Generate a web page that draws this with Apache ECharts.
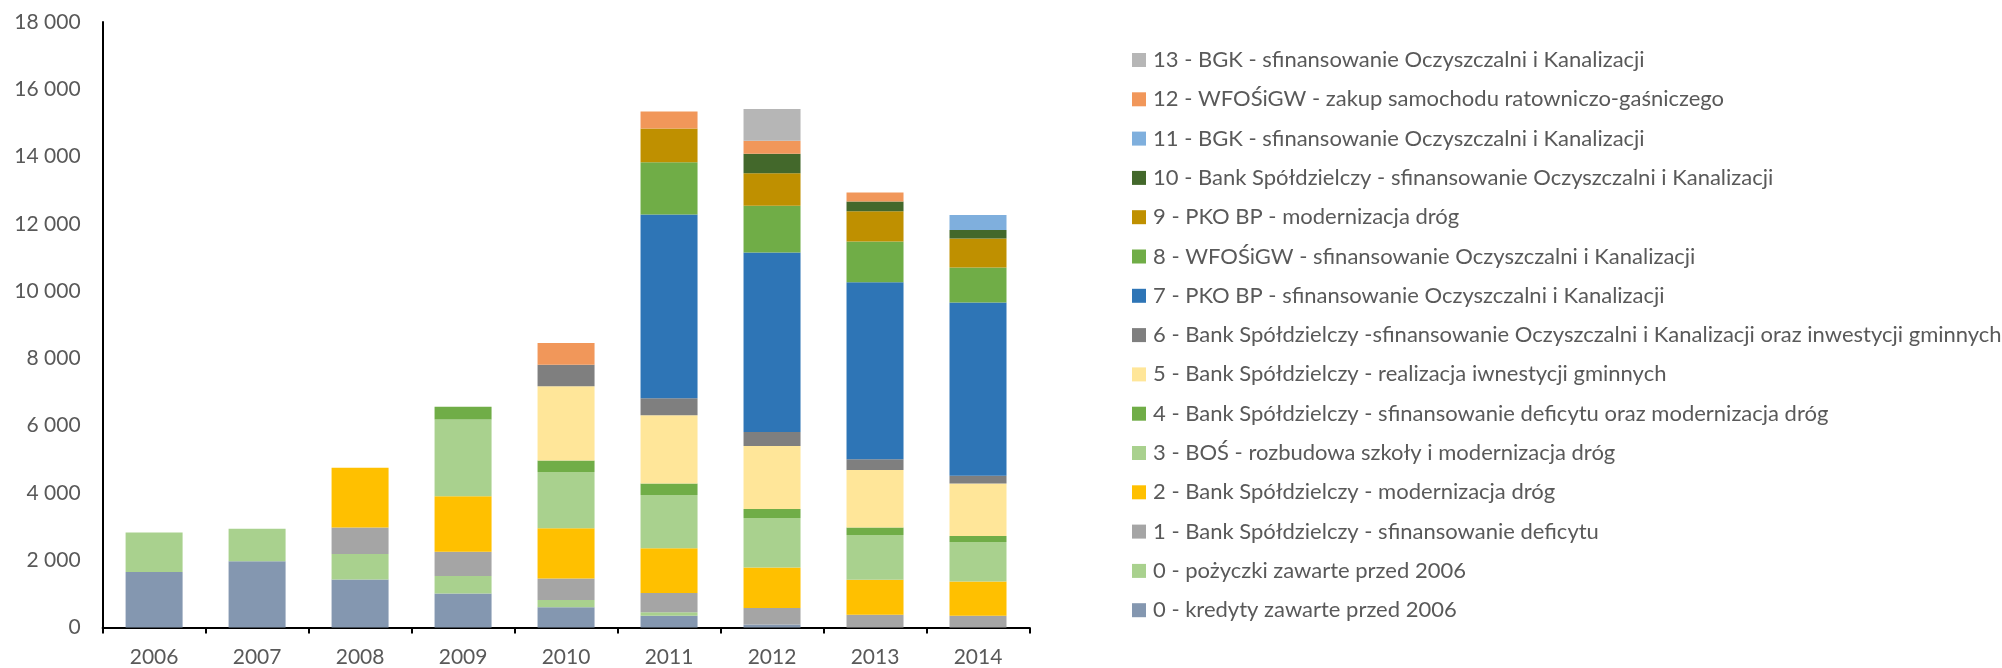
<!DOCTYPE html>
<html>
<head>
<meta charset="utf-8">
<title>Zadłużenie gminy 2006-2014</title>
<script src="https://cdn.jsdelivr.net/npm/echarts@6/dist/echarts.min.js"></script>
<style>
	html, body { margin: 0; padding: 0; background: #fff; }
	#main { width: 2002px; height: 668px; }
</style>
</head>
<body>
<div id="main"></div>
<script>
// lata
var years = ['2006', '2007', '2008', '2009', '2010', '2011', '2012', '2013', '2014'];

// nazwy serii (kolejnosc od dolu slupka)
var seriesNames = [
	'0 - kredyty zawarte przed 2006',
	'0 - pożyczki zawarte przed 2006',
	'1 - Bank Spółdzielczy - sfinansowanie deficytu',
	'2 - Bank Spółdzielczy - modernizacja dróg',
	'3 - BOŚ - rozbudowa szkoły i modernizacja dróg',
	'4 - Bank Spółdzielczy - sfinansowanie deficytu oraz modernizacja dróg',
	'5 - Bank Spółdzielczy - realizacja iwnestycji gminnych',
	'6 - Bank Spółdzielczy -sfinansowanie Oczyszczalni i Kanalizacji oraz inwestycji gminnych',
	'7 - PKO BP - sfinansowanie Oczyszczalni i Kanalizacji',
	'8 - WFOŚiGW - sfinansowanie Oczyszczalni i Kanalizacji',
	'9 - PKO BP - modernizacja dróg',
	'10 - Bank Spółdzielczy - sfinansowanie Oczyszczalni i Kanalizacji',
	'11 - BGK - sfinansowanie Oczyszczalni i Kanalizacji',
	'12 - WFOŚiGW - zakup samochodu ratowniczo-gaśniczego',
	'13 - BGK - sfinansowanie Oczyszczalni i Kanalizacji'
];

// wartosci (tys. zl)
var kredyty   = [1650, 1975, 1430, 1013, 608, 355, 89, 0, 0];
var pozyczki  = [1175, 965, 760, 520, 215, 101, 0, 0, 0];
var s1        = [0, 0, 787, 722, 634, 570, 494, 380, 355];
var s2        = [0, 0, 1773, 1647, 1495, 1330, 1203, 1039, 1013];
var s3        = [0, 0, 0, 2280, 1672, 1584, 1470, 1330, 1178];
var s4        = [0, 0, 0, 380, 342, 342, 266, 228, 178];
var s5        = [0, 0, 0, 0, 2204, 2027, 1875, 1710, 1558];
var s6        = [0, 0, 0, 0, 646, 506, 418, 317, 228];
var s7        = [0, 0, 0, 0, 0, 5460, 5333, 5257, 5156];
var s8        = [0, 0, 0, 0, 0, 1558, 1393, 1216, 1038];
var s9        = [0, 0, 0, 0, 0, 1001, 963, 899, 862];
var s10       = [0, 0, 0, 0, 0, 0, 583, 292, 253];
var s11       = [0, 0, 0, 0, 0, 0, 0, 0, 444];
var s12       = [0, 0, 0, 0, 646, 507, 380, 266, 0];
var s13       = [0, 0, 0, 0, 0, 0, 950, 0, 0];

var seriesValues = [kredyty, pozyczki, s1, s2, s3, s4, s5, s6, s7, s8, s9, s10, s11, s12, s13];

var colors = ['#8497b0', '#a9d18e', '#a5a5a5', '#ffc000', '#a9d18e', '#70ad47', '#ffe699',
	'#7f7f7f', '#2e75b6', '#70ad47', '#bf9000', '#43682b', '#7fafdd', '#f1975a', '#b6b6b6'];

var txt = '#595959';
var font = 'Lato, "Open Sans", sans-serif';

function fmt(v) {
	return String(v).replace(/\B(?=(\d{3})+(?!\d))/g, ' ');
}

function initChart() {
	var myChart = echarts.init(document.getElementById('main'));

	var series = [];
	for (var i = 0; i < seriesNames.length; i++) {
		series.push({
			name: seriesNames[i],
			type: 'bar',
			stack: 'dlug',
			barWidth: 57,
			itemStyle: { color: colors[i] },
			data: seriesValues[i]
		});
	}

	var option = {
		animation: false,
		textStyle: { fontFamily: font },
		grid: { left: 102.6, right: 972.5, top: 22, bottom: 40.4 },
		legend: {
			orient: 'vertical',
			left: 1132,
			top: 49,
			padding: 0,
			itemGap: 17.3,
			itemWidth: 14,
			itemHeight: 14,
			icon: 'rect',
			data: seriesNames.slice().reverse(),
			textStyle: { color: txt, fontSize: 22, lineHeight: 22, fontFamily: font, padding: [0, 0, 0, 2] }
		},
		xAxis: {
			type: 'category',
			data: years,
			axisLine: { lineStyle: { color: '#000', width: 2 } },
			axisTick: { show: true, length: 6, lineStyle: { color: '#000', width: 2 } },
			axisLabel: { color: txt, fontSize: 21, margin: 19, fontFamily: font }
		},
		yAxis: {
			type: 'value',
			min: 0,
			max: 18000,
			interval: 2000,
			splitLine: { show: false },
			axisLine: { show: true, lineStyle: { color: '#000', width: 2 } },
			axisTick: { show: false },
			axisLabel: { color: txt, fontSize: 21, margin: 22, fontFamily: font, formatter: fmt }
		},
		series: series
	};

	myChart.setOption(option);
}

initChart();
</script>
</body>
</html>
